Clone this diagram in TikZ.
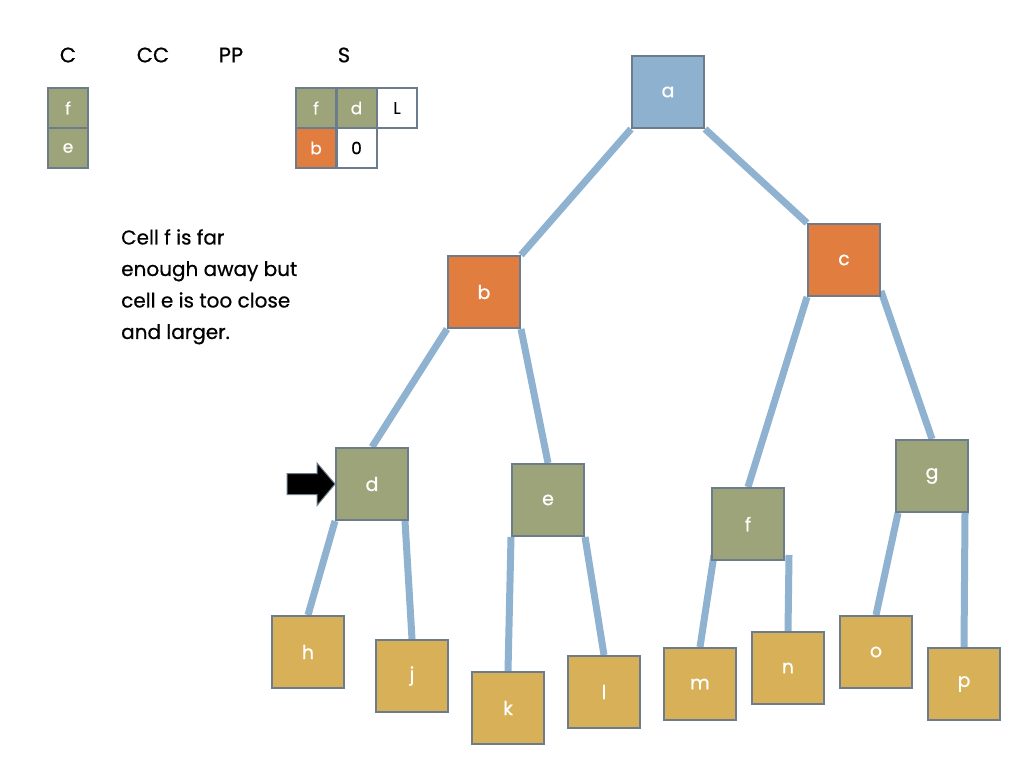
\documentclass[tikz,border=0pt]{standalone}
\usepackage{fontspec}
\setmainfont{Poppins}[FakeBold=0.6]
\usetikzlibrary{backgrounds}
\definecolor{boxline}{RGB}{108,124,140}
\definecolor{edgecol}{RGB}{142,178,208}
\definecolor{bluefill}{RGB}{143,177,208}
\definecolor{orangefill}{RGB}{224,125,63}
\definecolor{olivefill}{RGB}{157,164,122}
\definecolor{goldfill}{RGB}{216,176,88}
\tikzset{
  treebox/.style={draw=boxline, line width=2pt, minimum width=72pt, minimum height=72pt, inner sep=0pt, text=white, font=\fontsize{19}{22}\selectfont},
  cellbox/.style={draw=boxline, line width=2pt, minimum width=40pt, minimum height=40pt, inner sep=0pt, font=\fontsize{17}{20}\selectfont},
  blue/.style={fill=bluefill},
  orange/.style={fill=orangefill},
  olive/.style={fill=olivefill},
  gold/.style={fill=goldfill},
  tedge/.style={draw=edgecol, line width=7pt},
  header/.style={font=\fontsize{21}{24}\selectfont}
}
\begin{document}
\begin{tikzpicture}[x=1pt,y=-1pt]
\useasboundingbox (0,0) rectangle (1024,768);
% headers
\node[header] (hC) at (68,55) {C};
\node[header] (hCC) at (153,55) {CC};
\node[header] (hPP) at (231,55) {PP};
\node[header] (hS) at (344,55) {S};
% C stack
\node[cellbox,olive,text=white] (cf) at (68,108) {f};
\node[cellbox,olive,text=white] (ce) at (68,148) {e};
% S stack
\node[cellbox,olive,text=white] (sf) at (316,108) {f};
\node[cellbox,olive,text=white] (sd) at (356.5,108) {d};
\node[cellbox,fill=white] (sL) at (397,108) {L};
\node[cellbox,orange,text=white] (sb) at (316,148) {b};
\node[cellbox,fill=white] (s0) at (356.5,148) {0};
% text
\node[anchor=north west, align=left, inner sep=0pt, font=\fontsize{20}{31.5}\selectfont] (note) at (121,229)
  {Cell f is far\\enough away but\\cell e is too close\\and larger.};
% tree
\node[treebox,blue] (a) at (668,92) {a};
\node[treebox,orange] (b) at (484,292) {b};
\node[treebox,orange] (c) at (844,260) {c};
\node[treebox,olive] (d) at (372,484) {d};
\node[treebox,olive] (e) at (548,500) {e};
\node[treebox,olive] (f) at (748,524) {f};
\node[treebox,olive] (g) at (932,476) {g};
\node[treebox,gold] (h) at (308,652) {h};
\node[treebox,gold] (j) at (412,676) {j};
\node[treebox,gold] (k) at (508,708) {k};
\node[treebox,gold] (l) at (604,692) {l};
\node[treebox,gold] (m) at (700,684) {m};
\node[treebox,gold] (n) at (788,668) {n};
\node[treebox,gold] (o) at (876,652) {o};
\node[treebox,gold] (p) at (964,684) {p};
\begin{scope}[on background layer]
\draw[tedge] (a.south west) -- (b.north east);
\draw[tedge] (a.south east) -- (c.north west);
\draw[tedge] (b.south west) -- (d.north);
\draw[tedge] (b.south east) -- (e.north);
\draw[tedge] (c.south west) -- (f.north);
\draw[tedge] ([yshift=6pt]c.south east) -- (g.north);
\draw[tedge] (d.south west) -- (h.north);
\draw[tedge] ([xshift=-4pt]d.south east) -- (j.north);
\draw[tedge] (e.south west) -- (k.north);
\draw[tedge] (e.south east) -- (l.north);
\draw[tedge] ([xshift=3pt,yshift=6pt]f.south west) -- (m.north);
\draw[tedge] ([xshift=4pt,yshift=6pt]f.south east) -- (n.north);
\draw[tedge] ([xshift=3pt]g.south west) -- (o.north);
\draw[tedge] ([xshift=-4pt]g.south east) -- (p.north);
\end{scope}
% pointer arrow
\coordinate (arrtail) at (287,484);
\fill[black, draw=boxline, line width=1pt] (arrtail) ++(0,-10.5) -- ++(30,0) -- ++(0,-10.5) -- (d.west) -- (317,505.5) -- ++(0,-11) -- ++(-30,0) -- cycle;
\end{tikzpicture}
\end{document}
